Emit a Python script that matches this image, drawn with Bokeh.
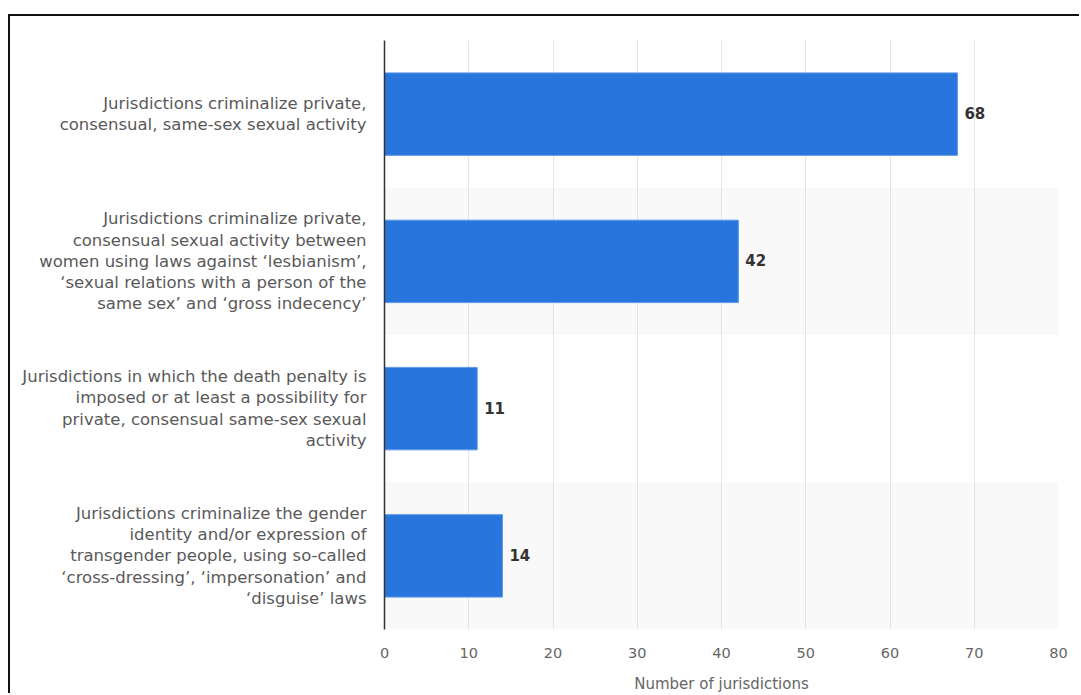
from bokeh.plotting import figure
from bokeh.models import FactorRange, LabelSet, ColumnDataSource, Range1d, FixedTicker
from bokeh.core.properties import value
from bokeh.embed import file_html
from bokeh.resources import INLINE

categories = [
    "Jurisdictions criminalize private,\nconsensual, same-sex sexual activity",
    "Jurisdictions criminalize private,\nconsensual sexual activity between\nwomen using laws against \u2018lesbianism\u2019,\n\u2018sexual relations with a person of the\nsame sex\u2019 and \u2018gross indecency\u2019",
    "Jurisdictions in which the death penalty is\nimposed or at least a possibility for\nprivate, consensual same-sex sexual\nactivity",
    "Jurisdictions criminalize the gender\nidentity and/or expression of\ntransgender people, using so-called\n\u2018cross-dressing\u2019, \u2018impersonation\u2019 and\n\u2018disguise\u2019 laws",
]
values = [68, 42, 11, 14]
x_ticks = [0, 10, 20, 30, 40, 50, 60, 70, 80]
x_max = 80
axis_title = "Number of jurisdictions"

FONT = "DejaVu Sans"

p = figure(
    width=1071, height=679,
    y_range=FactorRange(factors=list(reversed(categories)), range_padding=0),
    x_range=Range1d(0, x_max),
    output_backend="svg", toolbar_location=None,
    min_border_left=374, min_border_right=23, min_border_top=24, min_border_bottom=40,
)
p.styles = {"border-top": "2px solid #111", "border-left": "2px solid #111",
            "margin-top": "14px", "margin-left": "8px"}

p.outline_line_color = None
p.background_fill_color = "white"
p.border_fill_color = "white"

# alternating bands
band_src = ColumnDataSource(dict(y=[categories[1], categories[3]]))
bands = p.hbar(y="y", left=0, right=x_max, height=1, source=band_src,
               fill_color="#f9f9f9", line_color=None)
bands.level = "image"

src = ColumnDataSource(dict(y=categories, v=values, t=[str(v) for v in values]))
p.hbar(y="y", left=0, right="v", height=0.56, source=src,
       fill_color="#2876dd", line_color="#5c97e6", line_width=1)

p.add_layout(LabelSet(x="v", y="y", text="t", source=src, x_offset=7, y_offset=1,
                      text_baseline="middle", text_align="left",
                      text_font=value(FONT), text_font_size="15px", text_font_style="bold",
                      text_color="#333333"))

p.ygrid.grid_line_color = None
p.xgrid.ticker = FixedTicker(ticks=x_ticks)
p.xgrid.grid_line_color = "#cccccc"
p.xgrid.grid_line_dash = "1 1"
p.xgrid.grid_line_width = 1

p.yaxis.major_label_text_font = FONT
p.yaxis.major_label_text_font_size = "16.5px"
p.yaxis.major_label_text_color = "#595959"
p.yaxis.major_label_text_line_height = 1.12
p.yaxis.major_label_standoff = 12
p.yaxis.major_tick_line_color = None
p.yaxis.minor_tick_line_color = None
p.yaxis.axis_line_color = "#333333"
p.yaxis.axis_line_width = 1.5

p.xaxis.ticker = FixedTicker(ticks=x_ticks)
p.xaxis.axis_line_color = None
p.xaxis.major_tick_line_color = None
p.xaxis.minor_tick_line_color = None
p.xaxis.major_label_text_font = FONT
p.xaxis.major_label_text_font_size = "14.5px"
p.xaxis.major_label_text_color = "#666666"
p.xaxis.major_label_standoff = 12
p.xaxis.axis_label = axis_title
p.xaxis.axis_label_text_font = FONT
p.xaxis.axis_label_text_font_size = "15px"
p.xaxis.axis_label_text_font_style = "normal"
p.xaxis.axis_label_text_color = "#666666"
p.xaxis.axis_label_standoff = 14

open("out.html", "w").write(file_html(p, INLINE))
